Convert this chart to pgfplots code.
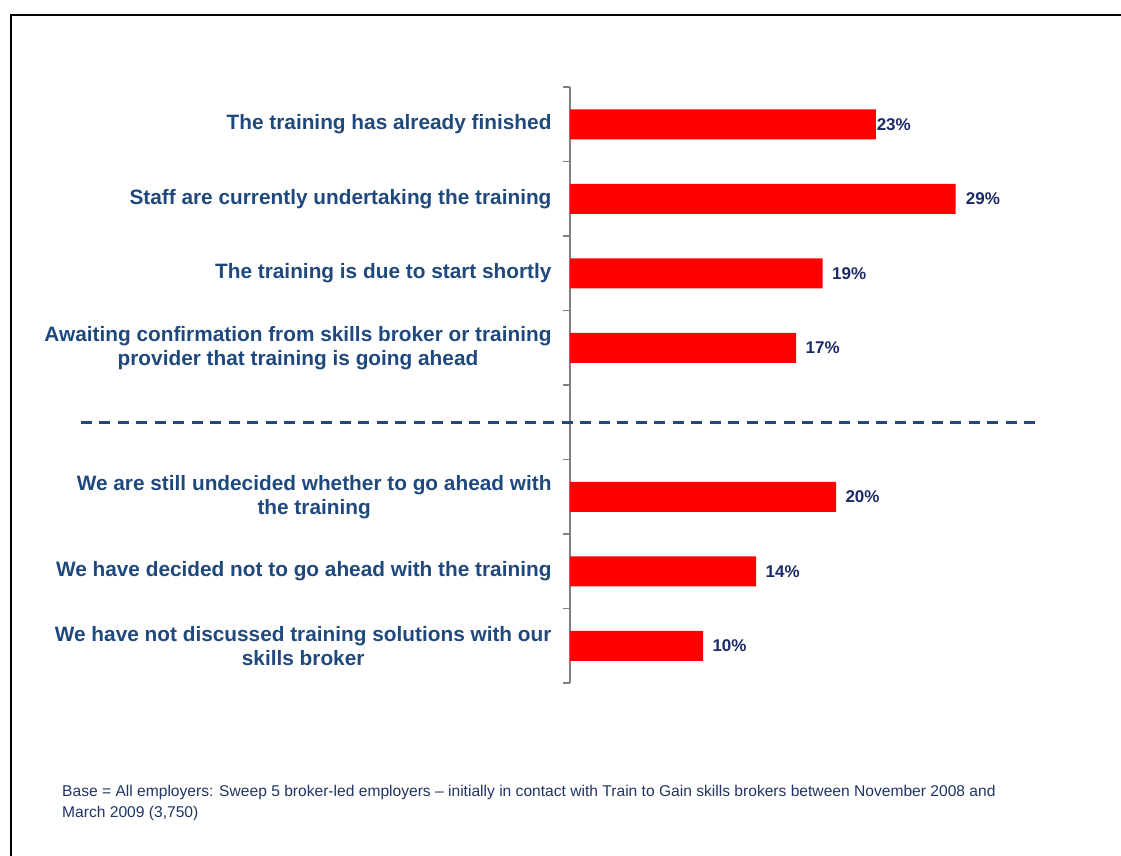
\documentclass[border=0pt]{standalone}
\usepackage{fontspec}
\setmainfont{Liberation Sans}
\usepackage{pgfplots}
\pgfplotsset{compat=1.18}
\usepackage{pgfplotstable}
\definecolor{labelblue}{HTML}{1F497D}
\definecolor{valnavy}{HTML}{1A2A66}
\definecolor{footnavy}{HTML}{1F3366}
\definecolor{axisgray}{HTML}{808080}
\definecolor{barred}{HTML}{FF0000}

\pgfplotstableread{
cat val
1 23
2 29
3 19
4 17
6 20
7 14
8 10
}\bardata

\pgfplotstableread{
pos cat lab
23.05 1 23\%
29.75 2 29\%
19.7 3 19\%
17.7 4 17\%
20.7 6 20\%
14.7 7 14\%
10.7 8 10\%
}\labeldata

\begin{document}
\begin{tikzpicture}[x=1pt,y=1pt]
\path[use as bounding box] (0,0) rectangle (1121,855);
% frame (left and top edges visible)
\draw[black, line width=2.5pt] (11,-5) -- (11,840) -- (1130,840);

\begin{axis}[
  at={(570pt,172pt)}, anchor=south west,
  scale only axis,
  width=465.5pt, height=596pt,
  xmin=0, xmax=35,
  ymin=0.5, ymax=8.5,
  y dir=reverse,
  axis x line=none,
  axis y line*=left,
  y axis line style={draw=axisgray, line width=1.2pt, -},
  ytick={1,2,3,4,5,6,7,8},
  major tick length=0pt,
  minor ytick={0.5,1.5,2.5,3.5,4.5,5.5,6.5,7.5,8.5},
  minor tick length=7pt,
  every tick/.style={draw=axisgray, line width=1.2pt},
  tick align=outside,
  yticklabels={
    {The training has already finished},
    {Staff are currently undertaking the training},
    {The training is due to start shortly},
    {Awaiting confirmation from skills broker or training\\provider that training is going ahead},
    {},
    {We are still undecided whether to go ahead with\\the training},
    {We have decided not to go ahead with the training},
    {We have not discussed training solutions with our\\skills broker}
  },
  yticklabel style={align=center, font=\fontsize{20.8}{24}\selectfont\bfseries, text=labelblue, xshift=-15pt},
  clip=false,
]
\addplot[xbar, bar width=30pt, bar shift=0pt, fill=barred, draw=none] table[x=val, y=cat] {\bardata};
\addplot[only marks, mark=none,
  nodes near coords, point meta=explicit symbolic,
  every node near coord/.append style={anchor=west, font=\fontsize{17}{20}\selectfont\bfseries, text=valnavy, inner sep=0pt}
] table[x=pos, y=cat, meta=lab] {\labeldata};
\draw[labelblue, line width=3pt, dash pattern=on 11pt off 7.5pt] (axis cs:-36.8,5) -- (axis cs:35.4,5);
\end{axis}

\node[anchor=north west, align=left, text=footnavy, font=\fontsize{15.6}{21}\selectfont, inner sep=0pt] at (62,70)
{Base = All employers: Sweep 5 broker-led employers -- initially in contact with Train to Gain skills brokers between November 2008 and\\March 2009 (3,750)};
\end{tikzpicture}
\end{document}
